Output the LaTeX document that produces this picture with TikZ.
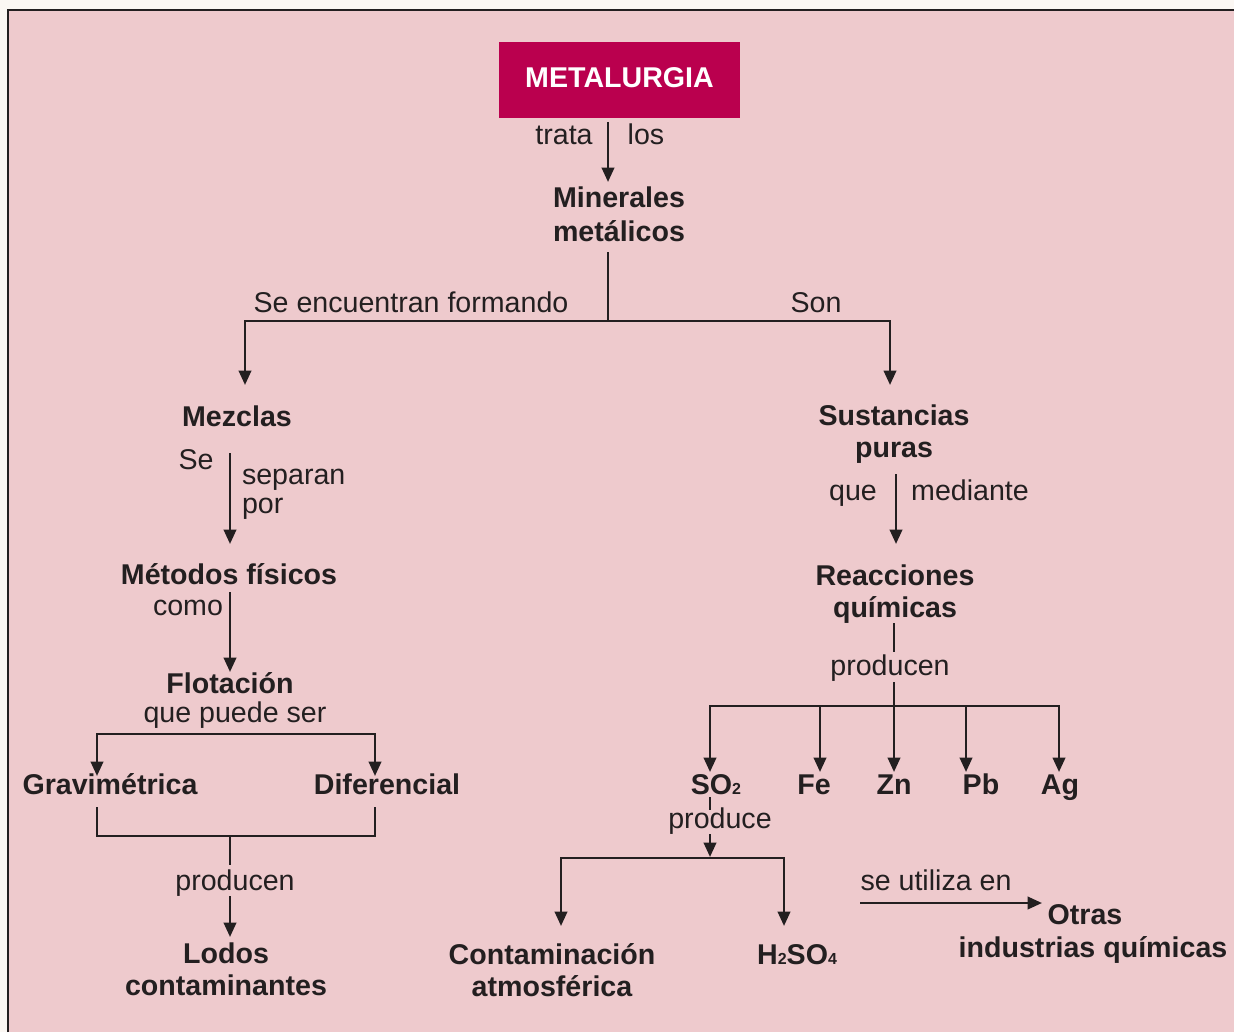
\documentclass[tikz,border=0pt]{standalone}
\usepackage{fontspec}
\setmainfont{Liberation Sans}
\usetikzlibrary{arrows.meta}
\definecolor{outerbg}{HTML}{FBF7F3}
\definecolor{panelpink}{HTML}{EECACD}
\definecolor{metalred}{HTML}{BA004E}
\definecolor{ink}{HTML}{231F20}
\newcommand\chemsub[1]{{\fontsize{8}{8}\selectfont #1}}
\begin{document}
\begin{tikzpicture}[x=0.5pt,y=-0.5pt,
  every node/.style={inner sep=0pt, outer sep=0pt, text=ink},
  concept/.style={font=\fontsize{14.3}{16}\selectfont\bfseries, align=center, anchor=base},
  lbl/.style={font=\fontsize{14.3}{16}\selectfont, anchor=base},
  conn/.style={draw=ink, line width=1.3pt},
  arr/.style={conn, -{Triangle[length=7.2pt,width=6.2pt]}},
  biarr/.style={conn, {Triangle[length=7.2pt,width=6.2pt]}-{Triangle[length=7.2pt,width=6.2pt]}},
]
\useasboundingbox (0,0) rectangle (1234,1032);
\fill[outerbg] (0,0) rectangle (1234,1032);
\fill[panelpink] (8,10) rectangle (1234,1032);
\draw[ink, line width=1.3pt] (8,1032) -- (8,10) -- (1234,10);

% nodes (multi-line nodes are placed at the baseline of their last line)
\node[fill=metalred, text=white, font=\fontsize{14.3}{16}\selectfont\bfseries,
      minimum width=120.5pt, minimum height=38pt, text depth=2.5pt] (metal) at (619.5,80) {METALURGIA};
\node[lbl] (trata) at (564,145) {trata};
\node[lbl] (los) at (646,145) {los};
\node[concept, font=\fontsize{14.3}{17}\selectfont\bfseries] (min) at (619,241.5) {Minerales\\metálicos};
\node[lbl] (seenc) at (411,312) {Se encuentran formando};
\node[lbl] (son) at (816,312) {Son};
\node[concept] (mez) at (237,426) {Mezclas};
\node[concept] (sus) at (894,457) {Sustancias\\puras};
\node[lbl] (se) at (196,469) {Se};
\node[lbl, anchor=base west, align=left, font=\fontsize{14.3}{14.5}\selectfont] (sep) at (242,513) {separan\\por};
\node[lbl] (que) at (853,500) {que};
\node[lbl] (med) at (970,500) {mediante};
\node[concept] (met) at (229,584) {Métodos físicos};
\node[concept] (rea) at (895,617) {Reacciones\\químicas};
\node[lbl] (como) at (188,615) {como};
\node[lbl] (prodR) at (890,675) {producen};
\node[concept] (flo) at (230,693) {Flotación};
\node[lbl] (qps) at (235,722) {que puede ser};
\node[concept] (gra) at (110,794) {Gravimétrica};
\node[concept] (dif) at (387,794) {Diferencial};
\node[concept] (so2) at (716,794) {SO\chemsub{2}};
\node[concept] (fe) at (814,794) {Fe};
\node[concept] (zn) at (894,794) {Zn};
\node[concept] (pb) at (981,794) {Pb};
\node[concept] (ag) at (1060,794) {Ag};
\node[lbl] (prodS) at (720,828) {produce};
\node[lbl] (prodL) at (235,890) {producen};
\node[lbl] (util) at (936,890) {se utiliza en};
\node[concept, font=\fontsize{14.3}{16.5}\selectfont\bfseries] (otr) at (1093,957) {Otras\hspace*{8pt}\\industrias químicas};
\node[concept] (lod) at (226,995) {Lodos\\contaminantes};
\node[concept] (con) at (552,996) {Contaminación\\atmosférica};
\node[concept] (h2) at (797,964) {H\chemsub{2}SO\chemsub{4}};

% coordinates
\coordinate (a1) at (608,182);
\coordinate (b0) at (608,252);
\coordinate (b1) at (608,321);
\coordinate (b2) at (245,385);
\coordinate (b3) at (890,385);
\coordinate (c0) at (230,453);
\coordinate (c1) at (230,544);
\coordinate (d0) at (230,592);
\coordinate (d1) at (230,672);
\coordinate (g1) at (97,776);
\coordinate (gL) at (97,734);
\coordinate (gR) at (375,734);
\coordinate (g2) at (375,776);
\coordinate (h1) at (97,807);
\coordinate (h2) at (97,836);
\coordinate (h3) at (375,836);
\coordinate (h4) at (375,807);
\coordinate (hm) at (230,836);
\coordinate (hm2) at (230,865);
\coordinate (hm3) at (230,896);
\coordinate (hm4) at (230,937);
\coordinate (r0) at (896,474);
\coordinate (r1) at (896,544);
\coordinate (s0) at (894,623);
\coordinate (s1) at (894,652);
\coordinate (s2) at (894,682);
\coordinate (s3) at (894,772);
\coordinate (tL) at (710,706);
\coordinate (tR) at (1059,706);
\coordinate (tFe) at (820,706);
\coordinate (tPb) at (966,706);
\coordinate (uSO) at (710,772);
\coordinate (uFe) at (820,772);
\coordinate (uPb) at (966,772);
\coordinate (uAg) at (1059,772);
\coordinate (v0) at (710,797);
\coordinate (v1) at (710,810);
\coordinate (v2) at (710,834);
\coordinate (v3) at (710,857);
\coordinate (wL) at (561,858);
\coordinate (wR) at (784,858);
\coordinate (wa) at (561,926);
\coordinate (wb) at (784,926);
\coordinate (x0) at (860,903);
\coordinate (x1) at (1042,903);

% connectors
\draw[arr, shorten <=2pt] (metal.south -| a1) -- (a1);
\draw[conn] (b0) -- (b1);
\draw[arr] (b1) -| (b2);
\draw[arr] (b1) -| (b3);
\draw[arr] (c0) -- (c1);
\draw[arr] (d0) -- (d1);
\draw[biarr] (g1) -- (gL) -- (gR) -- (g2);
\draw[conn] (h1) -- (h2) -- (h3) -- (h4);
\draw[conn] (hm) -- (hm2);
\draw[arr] (hm3) -- (hm4);
\draw[arr] (r0) -- (r1);
\draw[conn] (s0) -- (s1);
\draw[arr] (s2) -- (s3);
\draw[biarr] (uSO) -- (tL) -- (tR) -- (uAg);
\draw[arr] (tFe) -- (uFe);
\draw[arr] (tPb) -- (uPb);
\draw[conn] (v0) -- (v1);
\draw[arr] (v2) -- (v3);
\draw[biarr] (wa) -- (wL) -- (wR) -- (wb);
\draw[arr] (x0) -- (x1);
\end{tikzpicture}
\end{document}
